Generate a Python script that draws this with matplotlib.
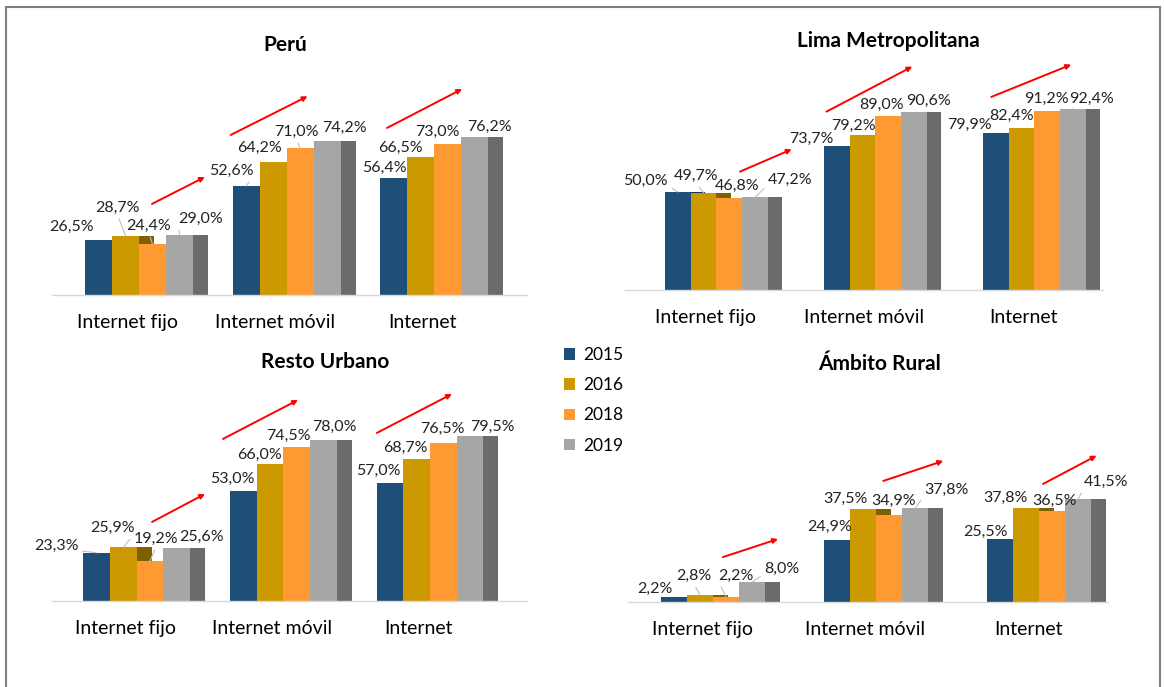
import matplotlib
matplotlib.use("Agg")
import matplotlib.pyplot as plt
from matplotlib.lines import Line2D
from matplotlib.patches import Patch

plt.rcParams['font.family'] = ['Lato', 'DejaVu Sans']

# data
years = ['2015', '2016', '2018', '2019']
categories = ['Internet fijo', 'Internet móvil', 'Internet']
titles = ['Perú', 'Lima Metropolitana', 'Resto Urbano', 'Ámbito Rural']

peru = [[26.5, 28.7, 24.4, 29.0], [52.6, 64.2, 71.0, 74.2], [56.4, 66.5, 73.0, 76.2]]
lima = [[50.0, 49.7, 46.8, 47.2], [73.7, 79.2, 89.0, 90.6], [79.9, 82.4, 91.2, 92.4]]
resto = [[23.3, 25.9, 19.2, 25.6], [53.0, 66.0, 74.5, 78.0], [57.0, 68.7, 76.5, 79.5]]
rural = [[2.2, 2.8, 2.2, 8.0], [24.9, 37.5, 34.9, 37.8], [25.5, 37.8, 36.5, 41.5]]
panel_data = [peru, lima, resto, rural]

colors = ['#1F4E79', '#CC9A00', '#FF9A33', '#A6A6A6']
side_colors = ['#15385A', '#7F6000', '#B86A1C', '#6B6B6B']

W, H = 1164, 687
fig = plt.figure(figsize=(W / 100, H / 100), dpi=100)

# panel layout in pixels: left, right, first group centre, bar width, group spacing, baseline, px per %
layout = [
    (52, 527, 139.0, 27.0, 147.5, 295, 2.07),
    (625, 1103, 716.4, 25.7, 158.9, 290, 1.96),
    (52, 527, 136.6, 26.7, 146.7, 601, 2.07),
    (628, 1108, 713.0, 26.0, 163.2, 602, 2.48),
]
title_pos = [(285, 45), (888, 41), (325, 362), (880, 364)]

# label offsets (px, right / up) and leader flags
label_off = [
    [[(-27, 13), (-8, 27.6), (-3.5, 18.5), (21.5, 16)],
     [(-14.5, 15), (-13.5, 14), (-3.5, 16), (17.5, 13.4)],
     [(-9.5, 10), (-20.5, 9), (-10.5, 12), (14.5, 10)]],
    [[(-32, 11), (-7.5, 16.6), (8.3, 12.6), (35, 17.5)],
     [(-25.3, 6.2), (-9.5, 8.8), (-7, 10.6), (14.7, 11.4)],
     [(-26.5, 8.4), (-9.3, 12.8), (-1, 12.2), (18.5, 10)]],
    [[(-40.4, 7), (-10.8, 19), (6.3, 22.3), (24.8, 11.3)],
     [(-10.8, 12.3), (-10, 9.4), (-7.9, 10.8), (10.7, 12.8)],
     [(-11.7, 12.3), (-10.9, 10.5), (-0.5, 13.3), (22.8, 9.7)]],
    [[(-19.5, 7.5), (-6.3, 19), (9.8, 20.5), (29.8, 12.9)],
     [(-7.5, 12.9), (-17.3, 10.5), (4, 14.1), (31.6, 18.3)],
     [(-14.7, 6.5), (-20.7, 10.4), (2.6, 10.2), (28, 17)]],
]
leaders = [
    [[0, 1, 1, 1], [1, 0, 1, 0], [0, 0, 0, 0]],
    [[1, 1, 0, 1], [0, 0, 0, 0], [0, 0, 0, 1]],
    [[1, 1, 1, 0], [0, 0, 0, 0], [0, 0, 0, 0]],
    [[0, 1, 1, 1], [0, 0, 0, 1], [0, 0, 0, 1]],
]
# trend arrows: group, x0, y0, x1, y1 (bar units from group centre, %)
trend = [
    [(0, 0.48, 44, 2.44, 57), (1, -2.07, 77.3, 0.78, 96), (2, -1.74, 80.7, 1.04, 99.5)],
    [(0, 0.92, 60.4, 2.93, 71.8), (1, -1.9, 91, 1.44, 114), (2, -1.67, 98.5, 1.44, 115)],
    [(0, 0.58, 38.2, 2.56, 51.7), (1, -2.26, 78.3, 0.55, 97.1), (2, -1.99, 81.2, 0.82, 100)],
    [(0, 0.38, 18.1, 2.5, 25.4), (1, 0.27, 48.8, 2.58, 56.9), (2, 0.14, 47.6, 2.2, 59)],
]

depth = 0.56
for p, data in enumerate(panel_data):
    L, R, c0, w, S, base, sc = layout[p]
    ymax = 110
    ax = fig.add_axes([L / W, 1 - base / H, (R - L) / W, sc * ymax / H])
    ax.set_xlim((L - c0) / w, (R - c0) / w)
    ax.set_ylim(0, ymax)
    gpos = [g * S / w for g in range(len(categories))]

    for g, vals in enumerate(data):
        for s, v in enumerate(vals):
            x = gpos[g] + s - 1.5
            ax.bar(x + 0.5, v, width=depth, align='edge', color=side_colors[s], zorder=1)
        for s, v in enumerate(vals):
            x = gpos[g] + s - 1.5
            ax.bar(x, v, width=1.0, color=colors[s], zorder=2)
        for s, v in enumerate(vals):
            x = gpos[g] + s - 1.5
            dx, dy = label_off[p][g][s]
            props = None
            if leaders[p][g][s]:
                if dx > 8:
                    rp = (0.0, 0.15)
                elif dx < -8:
                    rp = (1.0, 0.15)
                else:
                    rp = (0.5, 0.0)
                props = dict(arrowstyle='-', color='#BFBFBF', lw=0.8,
                             shrinkA=1, shrinkB=0, relpos=rp)
            ax.annotate(f"{v:.1f}%".replace('.', ','), xy=(x, v), xytext=(dx, dy),
                        textcoords='offset pixels', ha='center', va='center',
                        fontsize=11.5, color='#222222', arrowprops=props, zorder=4)

    for g, x0, y0, x1, y1 in trend[p]:
        ax.annotate('', xy=(gpos[g] + x1, y1), xytext=(gpos[g] + x0, y0),
                    arrowprops=dict(arrowstyle='-|>', color='#FF0000', lw=1.4,
                                    mutation_scale=7, shrinkA=0, shrinkB=0),
                    annotation_clip=False, zorder=5)

    ax.set_xticks([gp - 0.42 for gp in gpos])
    ax.set_xticklabels(categories, fontsize=14)
    ax.tick_params(axis='x', length=0, pad=14)
    ax.set_yticks([])
    for side in ['top', 'left', 'right']:
        ax.spines[side].set_visible(False)
    ax.spines['bottom'].set_color('#D9D9D9')
    ax.spines['bottom'].set_linewidth(1.0)
    ax.patch.set_visible(False)

    tx, ty = title_pos[p]
    fig.text(tx / W, 1 - ty / H, titles[p], ha='center', va='center',
             fontsize=15, fontweight='bold', color='#000000')

# legend
handles = [Patch(facecolor=c, edgecolor='none') for c in colors]
fig.legend(handles, years, loc='upper left', bbox_to_anchor=(564 / W, 1 - 347 / H),
           frameon=False, fontsize=12.5, handlelength=0.65, handleheight=0.65,
           handletextpad=0.45, labelspacing=0.82, borderpad=0, borderaxespad=0)

# outer frame
for xs, ys in [((6, 6), (7, 690)), ((6, 1160), (7, 7)), ((1160, 1160), (7, 690))]:
    fig.add_artist(Line2D([x / W for x in xs], [1 - y / H for y in ys],
                          color='#7F7F7F', lw=1.5))

fig.savefig('out.png', dpi=100)
